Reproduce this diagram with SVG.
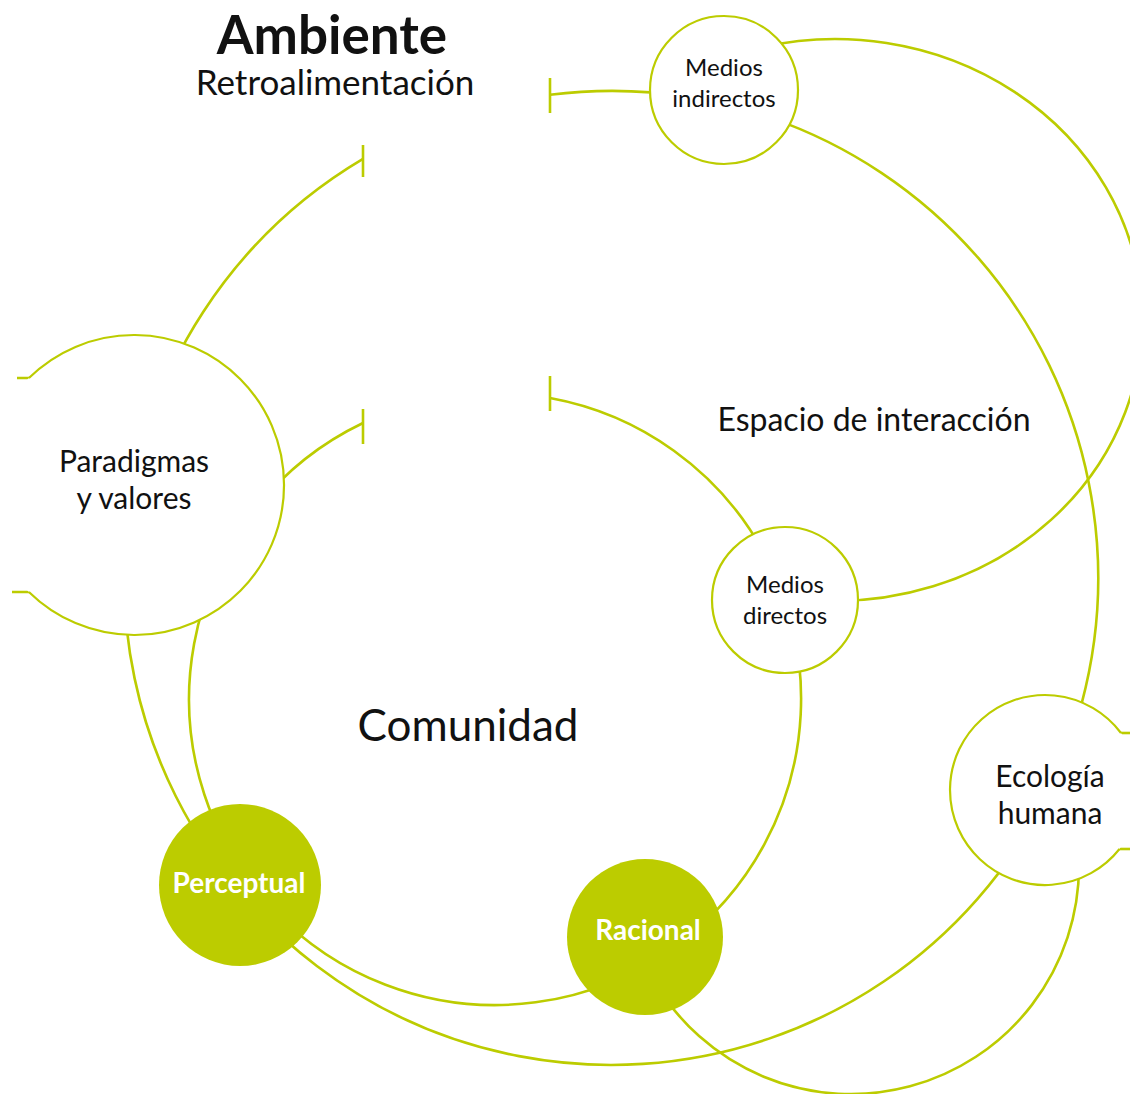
<svg xmlns="http://www.w3.org/2000/svg" width="1130" height="1094" viewBox="0 0 1130 1094">
<style>
.ln{fill:none;stroke:#bccc00;stroke-width:2.6}
.tk{fill:none;stroke:#bccc00;stroke-width:2.6}
.wn{fill:#ffffff;stroke:#bccc00;stroke-width:2.2}
.wf{fill:#ffffff;stroke:none}
.gn{fill:#bccc00;stroke:none}
text{font-family:Lato,"Open Sans","Liberation Sans",sans-serif;fill:#111111;text-anchor:middle}
.wt{fill:#ffffff;font-weight:bold}
</style>
<rect width="1130" height="1094" fill="#ffffff"/>
<g id="labels">
<text x="332" y="54" font-size="53" font-weight="bold">Ambiente</text>
<text x="335" y="95" font-size="35">Retroalimentación</text>
<text x="874" y="431" font-size="32">Espacio de interacción</text>
<text x="468" y="741" font-size="44">Comunidad</text>
</g>
<g id="connectors">
<path class="ln" d="M550,94.8 A487,487 0 1 1 363,158.9"/>
<path class="ln" d="M550,398 A306,306 0 1 1 363,423"/>
<path class="ln" d="M760.7,47.4 A307,281 0 1 1 808.2,599.9"/>
<path class="ln" d="M1079,866 A228,228 0 0 1 653.5,980"/>
<line class="tk" x1="550" y1="78" x2="550" y2="113"/>
<line class="tk" x1="363" y1="145" x2="363" y2="177"/>
<line class="tk" x1="550" y1="376" x2="550" y2="411"/>
<line class="tk" x1="363" y1="409" x2="363" y2="444"/>
<line class="tk" x1="17" y1="378" x2="51" y2="378"/>
<line class="tk" x1="12" y1="592" x2="46" y2="592"/>
<line class="tk" x1="1107" y1="733" x2="1130" y2="733"/>
<line class="tk" x1="1105" y1="849" x2="1130" y2="849"/>
</g>
<g id="node-medios-indirectos">
<circle class="wn" cx="724" cy="90" r="74"/>
<text x="724" y="76" font-size="24">Medios</text>
<text x="724" y="107" font-size="24">indirectos</text>
</g>
<g id="node-paradigmas">
<circle class="wf" cx="134" cy="485" r="150"/>
<path class="wn" style="fill:none" d="M28.9,378 A150,150 0 1 1 28.9,592"/>
<text x="134" y="472" font-size="30">Paradigmas</text>
<text x="134" y="509" font-size="30">y valores</text>
</g>
<g id="node-medios-directos">
<circle class="wn" cx="785" cy="600" r="73"/>
<text x="785" y="593" font-size="24">Medios</text>
<text x="785" y="624" font-size="24">directos</text>
</g>
<g id="node-ecologia">
<circle class="wf" cx="1045" cy="790" r="95"/>
<path class="wn" style="fill:none" d="M1121,733 A95,95 0 1 0 1119.5,849"/>
<text x="1050" y="787" font-size="30">Ecología</text>
<text x="1050" y="824" font-size="30">humana</text>
</g>
<g id="node-perceptual">
<circle class="gn" cx="240" cy="885" r="81"/>
<text class="wt" x="239" y="893" font-size="28">Perceptual</text>
</g>
<g id="node-racional">
<circle class="gn" cx="645" cy="937" r="78"/>
<text class="wt" x="648" y="940" font-size="28">Racional</text>
</g>
</svg>
